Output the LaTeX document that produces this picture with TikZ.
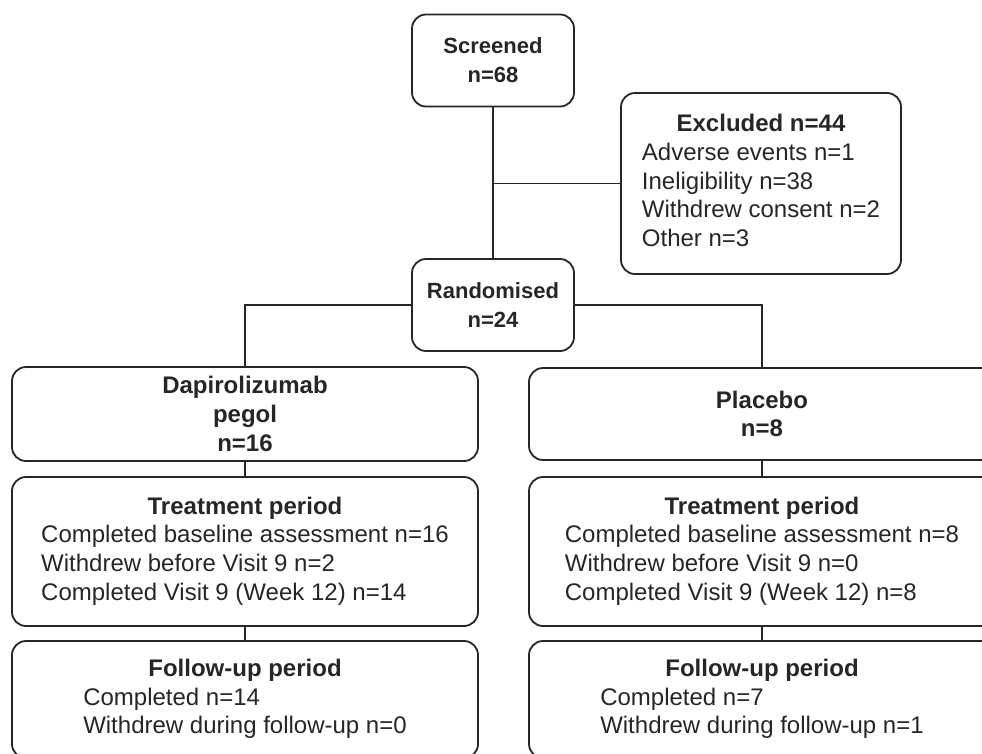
\documentclass[tikz,border=0pt]{standalone}
\usepackage{fontspec}
\setmainfont{Liberation Sans}
\usetikzlibrary{positioning}
\newcommand{\boxhead}[1]{\multicolumn{1}{@{}c@{}}{\textbf{#1}}}

\begin{document}
\begin{tikzpicture}[x=1pt,y=-1pt,line width=1.8pt,
    box/.style={draw=black!85,rounded corners=14pt,align=center,inner sep=0pt,
      font=\fontsize{24}{28.7}\selectfont,text=black!85},
    smallbox/.style={box,minimum width=162pt,minimum height=92pt,font=\fontsize{22}{29}\selectfont},
    armbox/.style={box,minimum width=466pt}]
        \useasboundingbox (0,0) rectangle (982,753);
        % top of the flow
        \node[smallbox] (scr) at (493,60.5) {\textbf{Screened}\\\textbf{n=68}};
        \node[box,minimum width=280pt,minimum height=181pt] (exc) at (761,183.5)
          {\begin{tabular}{@{}l@{}}\boxhead{Excluded n=44}\\Adverse events n=1\\Ineligibility n=38\\Withdrew consent n=2\\Other n=3\end{tabular}};
        \node[smallbox] (rnd) at (493,305) {\textbf{Randomised}\\\textbf{n=24}};
        % two arms
        \begin{scope}
          \node[armbox,minimum height=94pt] (dap) at (245,414) {\textbf{Dapirolizumab}\\\textbf{pegol}\\\textbf{n=16}};
          \node[armbox,minimum height=149pt] (trtL) at (245,551.5)
            {\begin{tabular}{@{}l@{}}\boxhead{Treatment period}\\Completed baseline assessment n=16\\Withdrew before Visit 9 n=2\\Completed Visit 9 (Week 12) n=14\end{tabular}};
          \node[armbox,minimum height=117pt] (fuL) at (245,699.5)
            {\begin{tabular}{@{}l@{}}\boxhead{Follow-up period}\\Completed n=14\\Withdrew during follow-up n=0\end{tabular}};
        \end{scope}
        \begin{scope}
          \node[armbox,minimum height=92pt] (pla) at (762,414) {\textbf{Placebo}\\\textbf{n=8}};
          \node[armbox,minimum height=149pt] (trtR) at (762,551.5)
            {\begin{tabular}{@{}l@{}}\boxhead{Treatment period}\\Completed baseline assessment n=8\\Withdrew before Visit 9 n=0\\Completed Visit 9 (Week 12) n=8\end{tabular}};
          \node[armbox,minimum height=117pt] (fuR) at (762,699.5)
            {\begin{tabular}{@{}l@{}}\boxhead{Follow-up period}\\Completed n=7\\Withdrew during follow-up n=1\end{tabular}};
        \end{scope}
        % connectors
        \draw[black!85] (scr.south) -- (rnd.north);
        \draw[black!85] (exc.west) -- (exc.west -| scr.south);
        \draw[black!85] (rnd.west) -| (dap.north);
        \draw[black!85] (rnd.east) -| (pla.north);
        \draw[black!85] (dap.south) -- (trtL.north);
        \draw[black!85] (trtL.south) -- (fuL.north);
        \draw[black!85] (pla.south) -- (trtR.north);
        \draw[black!85] (trtR.south) -- (fuR.north);
\end{tikzpicture}
\end{document}
